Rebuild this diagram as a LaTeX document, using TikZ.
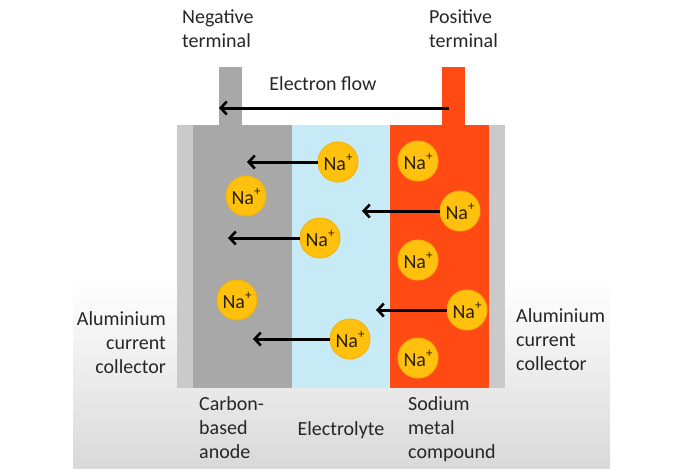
\documentclass[tikz,border=0pt]{standalone}
\usepackage{fontspec}
\setmainfont{Carlito}
\usetikzlibrary{arrows.meta}
\definecolor{bggray}{HTML}{D9D9D9}
\definecolor{collgray}{HTML}{CACACA}
\definecolor{anodegray}{HTML}{A8A8A8}
\definecolor{elblue}{HTML}{C6EBF7}
\definecolor{cathred}{HTML}{FF4A14}
\definecolor{ionyellow}{HTML}{FFC10E}
\definecolor{ionrim}{HTML}{F7B20A}
\definecolor{txt}{HTML}{262626}
\definecolor{iontxt}{HTML}{2A2000}
\tikzset{
  block/.style={inner sep=0pt, outer sep=0pt, anchor=north west, draw=none},
  ion/.style={circle, fill=ionyellow, draw=ionrim, line width=1pt, minimum size=40pt, inner sep=0pt, text=iontxt, font=\fontsize{20}{22}\selectfont},
  flow/.style={line width=3pt, -{Straight Barb[length=6pt, width=13pt, line width=2.6pt]}},
  lbl/.style={inner sep=0pt, text=txt, font=\fontsize{20}{24}\selectfont},
}
\newcommand{\naion}{Na\raisebox{0.45em}{\fontsize{13}{13}\selectfont +}}
\begin{document}
\begin{tikzpicture}[x=1pt, y=-1pt]
\useasboundingbox (0,0) rectangle (691,475);
% background
\shade[top color=white, bottom color=bggray] (73,280) rectangle (610,468);
% battery body
\node[block, fill=collgray, minimum width=328pt, minimum height=263pt] (body) at (177,125) {};
\node[block, fill=anodegray, minimum width=99pt, minimum height=263pt] (anode) at (193,125) {};
\node[block, fill=elblue, minimum width=98pt, minimum height=263pt] (electro) at (292,125) {};
\node[block, fill=cathred, minimum width=99pt, minimum height=263pt] (cathode) at (390,125) {};
% terminals
\node[block, fill=anodegray, minimum width=23pt, minimum height=59pt] (negterm) at (219,67) {};
\node[block, fill=cathred, minimum width=23pt, minimum height=59pt] (posterm) at (442,67) {};
% electron flow
\coordinate (eStart) at (449,108);
\coordinate (eEnd) at (219,108);
\draw[flow] (eStart) -- (eEnd);
\node[lbl] (eflow) at (323,84) {Electron flow};
% terminal labels
\node[lbl, align=left, anchor=north west] (neglbl) at (182,9) {Negative\\terminal};
\node[lbl, align=left, anchor=north west] (poslbl) at (429,9) {Positive\\terminal};
% ions
\node[ion] (c1) at (338,162) {\naion};
\node[ion] (c2) at (418,161) {\naion};
\node[ion] (c3) at (246,196) {\naion};
\node[ion] (c4) at (460,211) {\naion};
\node[ion] (c5) at (320,238) {\naion};
\node[ion] (c6) at (418,260) {\naion};
\node[ion] (c7) at (237,300) {\naion};
\node[ion] (c8) at (467,310) {\naion};
\node[ion] (c9) at (350,339) {\naion};
\node[ion] (c10) at (418,358) {\naion};
% ion arrows
\coordinate (a1) at (247,162);
\coordinate (a4) at (362,211);
\coordinate (a5) at (228,238);
\coordinate (a8) at (376,310);
\coordinate (a9) at (253,339);
\draw[flow] (c1.west) -- (a1);
\draw[flow] (c4.west) -- (a4);
\draw[flow] (c5.west) -- (a5);
\draw[flow] (c8.west) -- (a8);
\draw[flow] (c9.west) -- (a9);
% side labels
\node[lbl, align=right, anchor=north east] (leftcoll) at (166,311) {Aluminium\\current\\collector};
\node[lbl, align=left, anchor=north west] (rightcoll) at (516,308) {Aluminium\\current\\collector};
% bottom labels
\node[lbl, align=left, anchor=north west] (anodelbl) at (199,396) {Carbon-\\based\\anode};
\node[lbl] (electrolbl) at (341,430) {Electrolyte};
\node[lbl, align=left, anchor=north west] (cathlbl) at (408,396) {Sodium\\metal\\compound};
\end{tikzpicture}
\end{document}
